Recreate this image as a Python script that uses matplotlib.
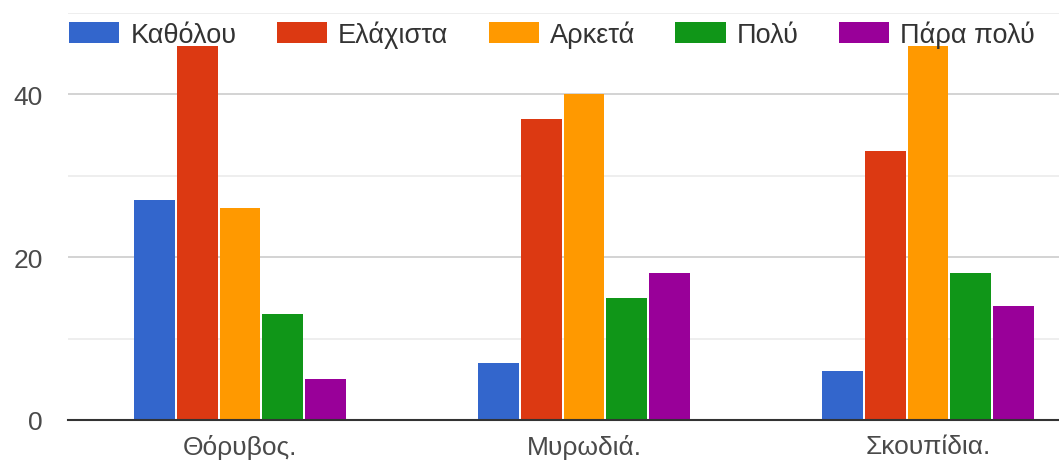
import numpy as np
import matplotlib
matplotlib.use("Agg")
from matplotlib import pyplot as plt

plt.rcParams['font.family'] = ['Liberation Sans', 'DejaVu Sans']

# data
categories = ["Θόρυβος.", "Μυρωδιά.", "Σκουπίδια."]
series_names = ["Καθόλου", "Ελάχιστα", "Αρκετά", "Πολύ", "Πάρα πολύ"]
kathólou = [27, 7, 6]
elachista = [46, 37, 33]
arketa = [26, 40, 46]
poly = [13, 15, 18]
para_poly = [5, 18, 14]
series_values = [kathólou, elachista, arketa, poly, para_poly]
colors = ["#3366cc", "#dc3912", "#ff9900", "#109618", "#990099"]

W, H = 1059, 464
fig = plt.figure(figsize=(W / 100, H / 100), dpi=100)
ax = fig.add_axes([68 / W, 43 / H, 1032 / W, 407 / H])

x = np.arange(len(categories))
slot = 0.1244
bw = 0.118
handles = []
for i, (name, vals, c) in enumerate(zip(series_names, series_values, colors)):
    b = ax.bar(x + (i - 2) * slot, vals, width=bw, color=c, linewidth=0, label=name, zorder=3)
    handles.append(b)

ax.set_xlim(-0.5, 2.5)
ax.set_ylim(0, 50)
ax.set_yticks([0, 20, 40])
ax.set_yticks([10, 30, 50], minor=True)
ax.grid(which='major', axis='y', color='#cccccc', linewidth=1.2, zorder=0)
ax.grid(which='minor', axis='y', color='#ebebeb', linewidth=1.2, zorder=0)
ax.set_xticks(x)
ax.set_xticklabels(categories)
ax.tick_params(axis='both', which='both', length=0, labelsize=19, labelcolor='#4a4a4a')
ax.tick_params(axis='y', pad=18)
ax.tick_params(axis='x', pad=10)
for s in ['top', 'right', 'left']:
    ax.spines[s].set_visible(False)
ax.spines['bottom'].set_color('#333333')
ax.spines['bottom'].set_linewidth(1.5)
ax.spines['bottom'].set_zorder(4)

leg = fig.legend(handles=handles, labels=series_names, loc='center left',
                 bbox_to_anchor=(69 / W, 1 - 35 / H), ncol=5, frameon=False,
                 fontsize=19.5, handlelength=1.85, handleheight=0.85, handletextpad=0.42,
                 columnspacing=1.48, borderaxespad=0, borderpad=0)
for t in leg.get_texts():
    t.set_color('#333333')

fig.savefig("out.png", dpi=100)
